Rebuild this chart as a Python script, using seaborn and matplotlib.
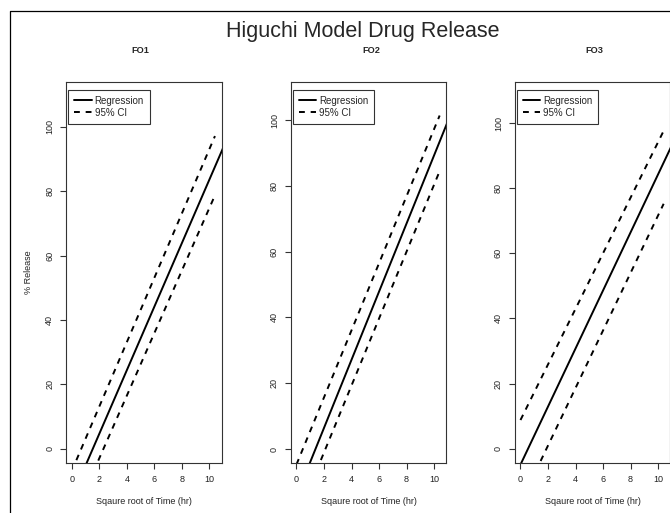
import matplotlib
matplotlib.use("Agg")
import matplotlib.pyplot as plt
from matplotlib.lines import Line2D
import seaborn as sns
import pandas as pd

# ---- data ----
panels = ["FO1", "FO2", "FO3"]
x_reg = [0.0, 11.0]          # regression line spans the whole panel
x_ci = [0.0, 10.4]           # confidence lines span the data range
reg_fo1 = [-15.1, 93.5]
upper_fo1 = [-6.9, 97.1]
lower_fo1 = [-22.4, 78.7]
reg_fo2 = [-14.3, 99.7]
upper_fo2 = [-4.7, 101.4]
lower_fo2 = [-21.4, 84.5]
reg_fo3 = [-4.9, 93.2]
upper_fo3 = [8.8, 97.6]
lower_fo3 = [-16.7, 75.2]
ylims = [(-4.35, 113.8), (-4.16, 111.5), (-4.3, 112.5)]
xlim = (-0.42, 10.89)
x_ticks = [0, 2, 4, 6, 8, 10]
y_ticks = [0, 20, 40, 60, 80, 100]
title = "Higuchi Model Drug Release"
xlabel = "Sqaure root of Time (hr)"
ylabel = "% Release"
legend_labels = ["Regression", "95% CI"]

series = {
    "FO1": (reg_fo1, upper_fo1, lower_fo1),
    "FO2": (reg_fo2, upper_fo2, lower_fo2),
    "FO3": (reg_fo3, upper_fo3, lower_fo3),
}

sns.set_style("white")
plt.rcParams["font.family"] = ["Liberation Sans", "DejaVu Sans"]

W, H = 670, 513
fig = plt.figure(figsize=(W / 100, H / 100), dpi=100)

lefts = [66, 290.7, 514.7]
ax_w = 155.7
top_px, bot_px = 82.3, 462.7
title_x = [140, 371, 594]

dash = (0, (3, 3))
spine_col = "#333333"

for i, name in enumerate(panels):
    l = lefts[i] / W
    b = 1 - bot_px / H
    h = (bot_px - top_px) / H
    ax = fig.add_axes([l, b, ax_w / W, h])
    reg, up, lo = series[name]
    df_reg = pd.DataFrame({"x": x_reg, "y": reg})
    df_up = pd.DataFrame({"x": x_ci, "y": up})
    df_lo = pd.DataFrame({"x": x_ci, "y": lo})
    sns.lineplot(data=df_reg, x="x", y="y", ax=ax, color="black", lw=1.4,
                 legend=False, estimator=None)
    sns.lineplot(data=df_up, x="x", y="y", ax=ax, color="black", lw=1.4,
                 linestyle=dash, legend=False, estimator=None)
    sns.lineplot(data=df_lo, x="x", y="y", ax=ax, color="black", lw=1.4,
                 linestyle=dash, legend=False, estimator=None)
    ax.set_xlim(*xlim)
    ax.set_ylim(*ylims[i])
    ax.set_xticks(x_ticks)
    ax.set_yticks(y_ticks)
    for s in ax.spines.values():
        s.set_visible(True)
        s.set_color(spine_col)
        s.set_linewidth(0.8)
    ax.tick_params(axis="both", which="major", direction="out", length=4.5,
                   width=0.8, color=spine_col, labelsize=6.5, labelcolor="#222222",
                   bottom=True, left=True)
    ax.tick_params(axis="x", pad=4.5)
    ax.tick_params(axis="y", pad=4, labelrotation=90)
    for t in ax.get_yticklabels():
        t.set_va("center")
    ax.set_xlabel(xlabel, fontsize=6.5, color="#222222", labelpad=9.5)
    if i == 0:
        ax.set_ylabel(ylabel, fontsize=6.5, color="#222222", labelpad=9)
    else:
        ax.set_ylabel("")
    handles = [Line2D([], [], color="black", lw=1.4),
               Line2D([], [], color="black", lw=1.4, linestyle=dash)]
    leg = ax.legend(handles, legend_labels, loc="upper left",
                    bbox_to_anchor=(0.015, 0.98), borderaxespad=0,
                    fontsize=7, frameon=True, fancybox=False,
                    handlelength=1.8, handletextpad=0.3, borderpad=0.6,
                    labelspacing=0.2)
    leg.get_frame().set_edgecolor("black")
    leg.get_frame().set_linewidth(0.8)
    fig.text(title_x[i] / W, 1 - 52.7 / H, name, fontsize=6.6,
             fontweight="bold", ha="center", va="baseline")

fig.text(363 / W, 1 - 37 / H, title, fontsize=15.5, ha="center", va="baseline")

# outer frame (left and top visible, the rest lies outside the crop)
fx, fy = 10 / W, 1 - 11 / H
fig.add_artist(Line2D([fx, fx, 1.05], [-0.05, fy, fy], color="black",
                      lw=0.9, transform=fig.transFigure))

fig.savefig("out.png", dpi=100)
